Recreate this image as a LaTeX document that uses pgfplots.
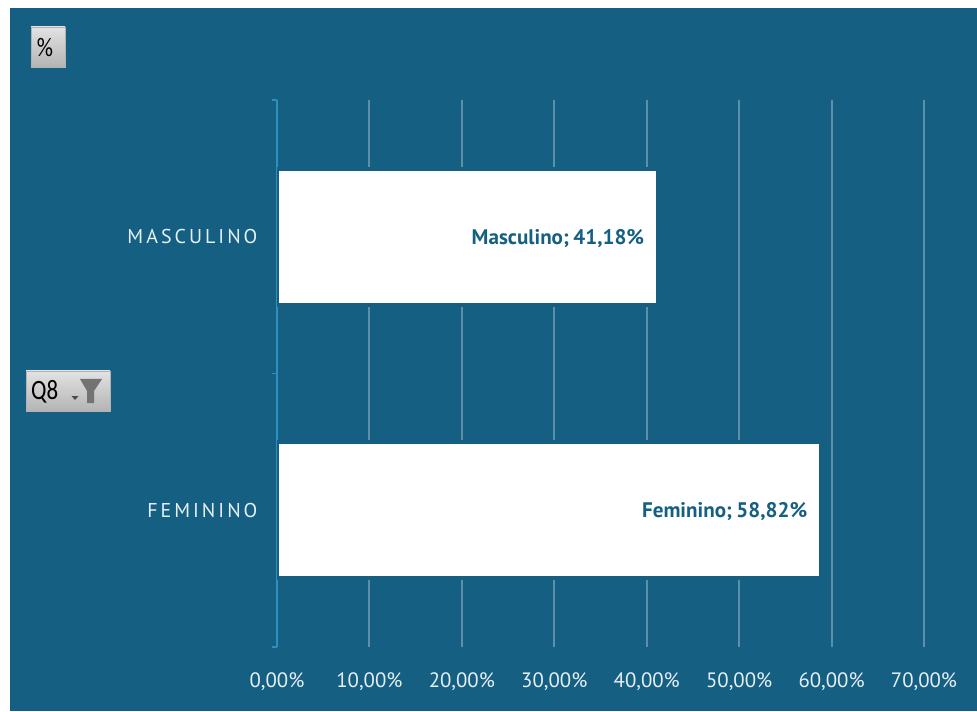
\documentclass[border=0pt]{standalone}
\usepackage{pgfplots}
\pgfplotsset{compat=1.18}
\usepackage{fontspec}
\setmainfont{PT Sans}
\newfontfamily\cat[LetterSpace=15]{PT Sans}
\newfontfamily\calib{Carlito}
\definecolor{bg}{HTML}{156082}
\definecolor{gridc}{HTML}{5E8FA9}
\definecolor{axc}{HTML}{2E8FC0}
\definecolor{lab}{HTML}{E6EFF4}
\definecolor{btop}{HTML}{E2E2E2}
\definecolor{bbot}{HTML}{B4B4B4}
\begin{document}
\begin{tikzpicture}
\begin{scope}[x=0.75pt,y=-0.75pt,yshift=533.25pt]
\fill[white] (0,0) rectangle (977,711);
\fill[bg] (10,8) rectangle (977,711);
\end{scope}
\begin{axis}[
  at={(207.75pt,48pt)}, anchor=south west,
  scale only axis, width=485.25pt, height=410.25pt,
  xmin=0, xmax=70, ymin=0, ymax=2,
  axis lines*=left,
  x axis line style={draw=none},
  y axis line style={draw=axc, line width=1.1pt, -},
  xtick={0,10,...,70},
  xticklabels={{0,00\%},{10,00\%},{20,00\%},{30,00\%},{40,00\%},{50,00\%},{60,00\%},{70,00\%}},
  xmajorgrids,
  grid style={draw=gridc, line width=1.5pt},
  major x tick style={draw=none},
  x tick label style={text=lab, font=\fontsize{15.6pt}{17pt}\selectfont, yshift=-19pt, inner sep=0pt, anchor=north},
  ytick={0.5,1.5},
  yticklabels={FEMININO,MASCULINO},
  y tick label style={text=lab, font=\cat\fontsize{15pt}{17pt}\selectfont, inner sep=0pt, xshift=-14.5pt},
  major y tick style={draw=none},
  major tick length=0pt,
  minor ytick={0,1,2},
  minor tick length=4pt,
  minor y tick style={draw=axc, line width=1pt},
  tick align=outside,
  xbar, bar width=102pt, bar shift=0pt,
  every node near coord/.append style={
    anchor=east, xshift=-8.6pt, yshift=-1.2pt, inner sep=0pt, text=bg,
    font=\bfseries\fontsize{15.8pt}{17pt}\selectfont},
]
\addplot[fill=white, draw=bg, line width=3pt, nodes near coords={Masculino;\hspace{0.2em}41,18\%}] coordinates {(41.18,1.5)};
\addplot[fill=white, draw=bg, line width=3pt, nodes near coords={Feminino;\hspace{0.2em}58,82\%}] coordinates {(58.82,0.5)};
\end{axis}
\begin{scope}[x=0.75pt,y=-0.75pt,yshift=533.25pt]
\shade[top color=btop, bottom color=bbot, draw=gray!60!white, line width=0.5pt] (31,27) rectangle (65,67);
\node[text=black, font=\calib\fontsize{20pt}{22pt}\selectfont, inner sep=0, xscale=0.85, transform shape] at (45,48) {\%};
\shade[top color=btop, bottom color=bbot, draw=gray!60!white, line width=0.5pt] (26,371) rectangle (110,411);
\node[text=black, font=\calib\fontsize{21pt}{23pt}\selectfont, inner sep=0, anchor=west, xscale=0.82, transform shape] at (31,392) {Q8};
\fill[gray!90!black] (80,379) -- (102,379) -- (94,391) -- (94,403) -- (87,403) -- (87,391) -- cycle;
\fill[black!70] (71.5,396) -- (78.5,396) -- (75,400) -- cycle;
\end{scope}
\end{tikzpicture}
\end{document}
